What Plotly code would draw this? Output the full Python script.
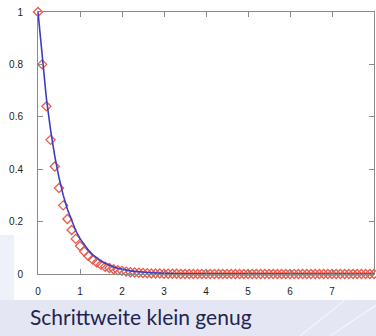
import plotly.graph_objects as go

# time grid (step 0.1 from 0 to 8)
t_values = [0.0, 0.1, 0.2, 0.3, 0.4, 0.5, 0.6, 0.7, 0.8, 0.9,
            1.0, 1.1, 1.2, 1.3, 1.4, 1.5, 1.6, 1.7, 1.8, 1.9,
            2.0, 2.1, 2.2, 2.3, 2.4, 2.5, 2.6, 2.7, 2.8, 2.9,
            3.0, 3.1, 3.2, 3.3, 3.4, 3.5, 3.6, 3.7, 3.8, 3.9,
            4.0, 4.1, 4.2, 4.3, 4.4, 4.5, 4.6, 4.7, 4.8, 4.9,
            5.0, 5.1, 5.2, 5.3, 5.4, 5.5, 5.6, 5.7, 5.8, 5.9,
            6.0, 6.1, 6.2, 6.3, 6.4, 6.5, 6.6, 6.7, 6.8, 6.9,
            7.0, 7.1, 7.2, 7.3, 7.4, 7.5, 7.6, 7.7, 7.8, 7.9,
            8.0]

# numerical (Euler) solution - red diamonds
euler_values = [1.000, 0.800, 0.640, 0.512, 0.410, 0.328, 0.262, 0.210, 0.168, 0.134,
                0.107, 0.086, 0.069, 0.055, 0.044, 0.035, 0.028, 0.023, 0.018, 0.014,
                0.012, 0.009, 0.007, 0.006, 0.005, 0.004, 0.003, 0.002, 0.002, 0.002,
                0.001, 0.001, 0.001, 0.001, 0.000, 0.000, 0.000, 0.000, 0.000, 0.000,
                0.000, 0.000, 0.000, 0.000, 0.000, 0.000, 0.000, 0.000, 0.000, 0.000,
                0.000, 0.000, 0.000, 0.000, 0.000, 0.000, 0.000, 0.000, 0.000, 0.000,
                0.000, 0.000, 0.000, 0.000, 0.000, 0.000, 0.000, 0.000, 0.000, 0.000,
                0.000, 0.000, 0.000, 0.000, 0.000, 0.000, 0.000, 0.000, 0.000, 0.000,
                0.000]

# exact solution - blue line
exact_values = [1.000, 0.819, 0.670, 0.549, 0.449, 0.368, 0.301, 0.247, 0.202, 0.165,
                0.135, 0.111, 0.091, 0.074, 0.061, 0.050, 0.041, 0.033, 0.027, 0.022,
                0.018, 0.015, 0.012, 0.010, 0.008, 0.007, 0.006, 0.005, 0.004, 0.003,
                0.002, 0.002, 0.002, 0.001, 0.001, 0.001, 0.001, 0.001, 0.000, 0.000,
                0.000, 0.000, 0.000, 0.000, 0.000, 0.000, 0.000, 0.000, 0.000, 0.000,
                0.000, 0.000, 0.000, 0.000, 0.000, 0.000, 0.000, 0.000, 0.000, 0.000,
                0.000, 0.000, 0.000, 0.000, 0.000, 0.000, 0.000, 0.000, 0.000, 0.000,
                0.000, 0.000, 0.000, 0.000, 0.000, 0.000, 0.000, 0.000, 0.000, 0.000,
                0.000]

x_ticks = [0, 1, 2, 3, 4, 5, 6, 7, 8]
y_ticks = [0, 0.2, 0.4, 0.6, 0.8, 1]
y_tick_labels = ["0", "0.2", "0.4", "0.6", "0.8", "1"]
caption = "Schrittweite klein genug"

W, H = 376, 336
fig = go.Figure()

fig.add_trace(go.Scatter(
    x=t_values, y=euler_values, mode="markers",
    marker=dict(symbol="diamond-open", size=7, color="#ec5a4e",
                line=dict(width=1.3, color="#ec5a4e")),
    cliponaxis=False, showlegend=False, hoverinfo="skip"))

fig.add_trace(go.Scatter(
    x=t_values, y=exact_values, mode="lines",
    line=dict(color="#3c3cc4", width=1.6),
    cliponaxis=False, showlegend=False, hoverinfo="skip"))

axis_common = dict(showgrid=False, zeroline=False, showline=True, linecolor="#8a8a8a",
                   linewidth=1, mirror="ticks", ticks="inside", ticklen=5,
                   tickcolor="#8a8a8a", tickwidth=1, automargin=False,
                   tickfont=dict(family="Arial, Liberation Sans", size=10, color="#222"))

fig.update_layout(
    width=W, height=H, margin=dict(l=0, r=0, t=0, b=0, pad=0),
    paper_bgcolor="#e4e6f4", plot_bgcolor="white",
    xaxis=dict(range=[0, 8], domain=[38 / W, 374 / W], tickvals=x_ticks,
               ticklabelstandoff=8, **axis_common),
    yaxis=dict(range=[0, 1], domain=[1 - 274 / H, 1 - 12 / H], tickvals=y_ticks,
               ticktext=y_tick_labels, ticklabelstandoff=12, **axis_common),
    shapes=[
        dict(type="rect", xref="paper", yref="paper", x0=0, x1=1, y0=1 - 300 / H, y1=1,
             fillcolor="white", line=dict(width=0), layer="below"),
        dict(type="rect", xref="paper", yref="paper", x0=0, x1=14 / W,
             y0=1 - 300 / H, y1=1 - 235 / H,
             fillcolor="#eef0fa", line=dict(width=0), layer="below"),
        dict(type="line", xref="paper", yref="paper", x0=300 / W, y0=0, x1=345 / W,
             y1=1 - 300 / H, line=dict(color="#f2f3fb", width=1.5), layer="below"),
        dict(type="line", xref="paper", yref="paper", x0=330 / W, y0=0, x1=376 / W,
             y1=1 - 305 / H, line=dict(color="#f2f3fb", width=1.5), layer="below"),
    ],
    annotations=[dict(text=caption, xref="paper", yref="paper", x=28 / W, y=1 - 302 / H,
                      xanchor="left", yanchor="top", showarrow=False,
                      font=dict(family="Lato", size=21, color="#1f2452"))],
)

fig.write_html("out.html", config={"displayModeBar": False},
               post_script="document.body.style.margin='0';")
